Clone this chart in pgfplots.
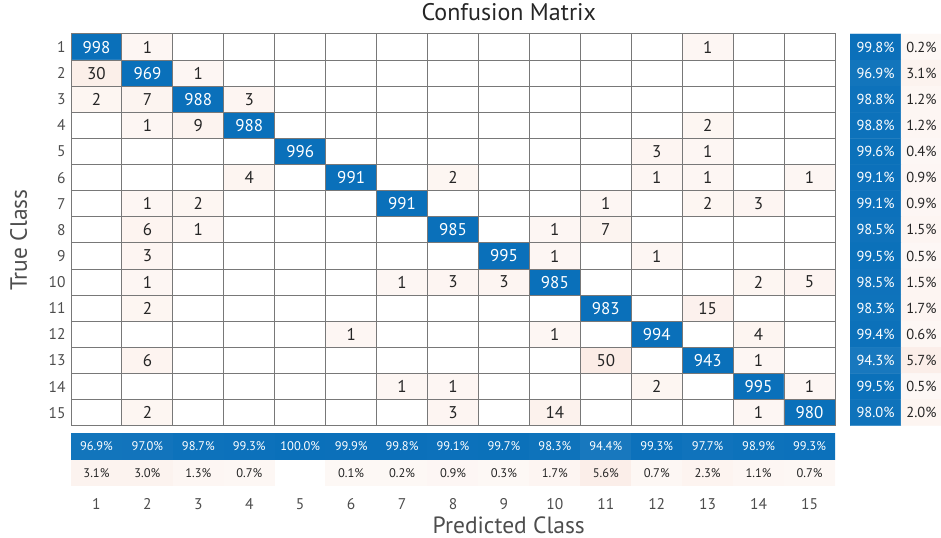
\documentclass[border=0pt]{standalone}
\usepackage{pgfplots}
\pgfplotsset{compat=1.18}
\usepackage{pgfplotstable}
\usepackage{fontspec}
\setmainfont{PT Sans}
\definecolor{txt}{RGB}{38,38,38}
\definecolor{lbl}{RGB}{77,77,77}
\definecolor{gridc}{RGB}{120,120,120}
\pgfplotsset{
  colormap={cmx}{rgb255=(217,83,25) rgb255=(255,255,255) rgb255=(10,112,186)},
  /pgf/number format/assume math mode=true,
}
% confusion counts: x = predicted class, y = true class, v = count
\pgfplotstableread[row sep=\\]{
x y v\\
1 1 998\\ 2 1 1\\ 3 1 0\\ 4 1 0\\ 5 1 0\\ 6 1 0\\ 7 1 0\\ 8 1 0\\ 9 1 0\\ 10 1 0\\ 11 1 0\\ 12 1 0\\ 13 1 1\\ 14 1 0\\ 15 1 0\\
1 2 30\\ 2 2 969\\ 3 2 1\\ 4 2 0\\ 5 2 0\\ 6 2 0\\ 7 2 0\\ 8 2 0\\ 9 2 0\\ 10 2 0\\ 11 2 0\\ 12 2 0\\ 13 2 0\\ 14 2 0\\ 15 2 0\\
1 3 2\\ 2 3 7\\ 3 3 988\\ 4 3 3\\ 5 3 0\\ 6 3 0\\ 7 3 0\\ 8 3 0\\ 9 3 0\\ 10 3 0\\ 11 3 0\\ 12 3 0\\ 13 3 0\\ 14 3 0\\ 15 3 0\\
1 4 0\\ 2 4 1\\ 3 4 9\\ 4 4 988\\ 5 4 0\\ 6 4 0\\ 7 4 0\\ 8 4 0\\ 9 4 0\\ 10 4 0\\ 11 4 0\\ 12 4 0\\ 13 4 2\\ 14 4 0\\ 15 4 0\\
1 5 0\\ 2 5 0\\ 3 5 0\\ 4 5 0\\ 5 5 996\\ 6 5 0\\ 7 5 0\\ 8 5 0\\ 9 5 0\\ 10 5 0\\ 11 5 0\\ 12 5 3\\ 13 5 1\\ 14 5 0\\ 15 5 0\\
1 6 0\\ 2 6 0\\ 3 6 0\\ 4 6 4\\ 5 6 0\\ 6 6 991\\ 7 6 0\\ 8 6 2\\ 9 6 0\\ 10 6 0\\ 11 6 0\\ 12 6 1\\ 13 6 1\\ 14 6 0\\ 15 6 1\\
1 7 0\\ 2 7 1\\ 3 7 2\\ 4 7 0\\ 5 7 0\\ 6 7 0\\ 7 7 991\\ 8 7 0\\ 9 7 0\\ 10 7 0\\ 11 7 1\\ 12 7 0\\ 13 7 2\\ 14 7 3\\ 15 7 0\\
1 8 0\\ 2 8 6\\ 3 8 1\\ 4 8 0\\ 5 8 0\\ 6 8 0\\ 7 8 0\\ 8 8 985\\ 9 8 0\\ 10 8 1\\ 11 8 7\\ 12 8 0\\ 13 8 0\\ 14 8 0\\ 15 8 0\\
1 9 0\\ 2 9 3\\ 3 9 0\\ 4 9 0\\ 5 9 0\\ 6 9 0\\ 7 9 0\\ 8 9 0\\ 9 9 995\\ 10 9 1\\ 11 9 0\\ 12 9 1\\ 13 9 0\\ 14 9 0\\ 15 9 0\\
1 10 0\\ 2 10 1\\ 3 10 0\\ 4 10 0\\ 5 10 0\\ 6 10 0\\ 7 10 1\\ 8 10 3\\ 9 10 3\\ 10 10 985\\ 11 10 0\\ 12 10 0\\ 13 10 0\\ 14 10 2\\ 15 10 5\\
1 11 0\\ 2 11 2\\ 3 11 0\\ 4 11 0\\ 5 11 0\\ 6 11 0\\ 7 11 0\\ 8 11 0\\ 9 11 0\\ 10 11 0\\ 11 11 983\\ 12 11 0\\ 13 11 15\\ 14 11 0\\ 15 11 0\\
1 12 0\\ 2 12 0\\ 3 12 0\\ 4 12 0\\ 5 12 0\\ 6 12 1\\ 7 12 0\\ 8 12 0\\ 9 12 0\\ 10 12 1\\ 11 12 0\\ 12 12 994\\ 13 12 0\\ 14 12 4\\ 15 12 0\\
1 13 0\\ 2 13 6\\ 3 13 0\\ 4 13 0\\ 5 13 0\\ 6 13 0\\ 7 13 0\\ 8 13 0\\ 9 13 0\\ 10 13 0\\ 11 13 50\\ 12 13 0\\ 13 13 943\\ 14 13 1\\ 15 13 0\\
1 14 0\\ 2 14 0\\ 3 14 0\\ 4 14 0\\ 5 14 0\\ 6 14 0\\ 7 14 1\\ 8 14 1\\ 9 14 0\\ 10 14 0\\ 11 14 0\\ 12 14 2\\ 13 14 0\\ 14 14 995\\ 15 14 1\\
1 15 0\\ 2 15 2\\ 3 15 0\\ 4 15 0\\ 5 15 0\\ 6 15 0\\ 7 15 0\\ 8 15 3\\ 9 15 0\\ 10 15 14\\ 11 15 0\\ 12 15 0\\ 13 15 0\\ 14 15 1\\ 15 15 980\\
}\cmdata
% row summary: x=1 correct %, x=2 incorrect %
\pgfplotstableread[row sep=\\]{
x y p\\
1 1 99.8\\ 2 1 0.2\\
1 2 96.9\\ 2 2 3.1\\
1 3 98.8\\ 2 3 1.2\\
1 4 98.8\\ 2 4 1.2\\
1 5 99.6\\ 2 5 0.4\\
1 6 99.1\\ 2 6 0.9\\
1 7 99.1\\ 2 7 0.9\\
1 8 98.5\\ 2 8 1.5\\
1 9 99.5\\ 2 9 0.5\\
1 10 98.5\\ 2 10 1.5\\
1 11 98.3\\ 2 11 1.7\\
1 12 99.4\\ 2 12 0.6\\
1 13 94.3\\ 2 13 5.7\\
1 14 99.5\\ 2 14 0.5\\
1 15 98.0\\ 2 15 2.0\\
}\rowsum
% column summary: y=2 correct %, y=1 incorrect %
\pgfplotstableread[row sep=\\]{
x y p\\
1 1 3.1\\ 2 1 3.0\\ 3 1 1.3\\ 4 1 0.7\\ 5 1 0.0\\ 6 1 0.1\\ 7 1 0.2\\ 8 1 0.9\\ 9 1 0.3\\ 10 1 1.7\\ 11 1 5.6\\ 12 1 0.7\\ 13 1 2.3\\ 14 1 1.1\\ 15 1 0.7\\
1 2 96.9\\ 2 2 97.0\\ 3 2 98.7\\ 4 2 99.3\\ 5 2 100.0\\ 6 2 99.9\\ 7 2 99.8\\ 8 2 99.1\\ 9 2 99.7\\ 10 2 98.3\\ 11 2 94.4\\ 12 2 99.3\\ 13 2 97.7\\ 14 2 98.9\\ 15 2 99.3\\
}\colsum
\begin{document}
\begin{tikzpicture}
\useasboundingbox (0,0) rectangle (941bp,538bp);
% ---------------- main matrix ----------------
\begin{axis}[
  at={(71bp,112.3bp)}, anchor=south west, scale only axis,
  width=764bp, height=391.7bp,
  xmin=0.5, xmax=15.5, ymin=0.5, ymax=15.5, y dir=reverse,
  enlargelimits=false,
  point meta min=0, point meta max=200,
  xtick={1,...,15}, xticklabels={},
  ytick={1,...,15},
  minor xtick={0.5,1.5,...,15.5}, minor ytick={0.5,1.5,...,15.5},
  xminorgrids, yminorgrids,
  minor grid style={gridc, line width=1bp},
  major tick length=0pt, minor tick length=0pt,
  axis line style={gridc, line width=1bp},
  axis on top,
  yticklabel style={font=\fontsize{15.5bp}{18bp}\selectfont, text=lbl, xshift=-2bp},
  title={Confusion Matrix},
  title style={at={(axis description cs:0.573,1)}, anchor=base, yshift=7.3bp,
    font=\fontsize{24bp}{28bp}\selectfont, text=txt},
  ylabel={True Class},
  ylabel style={at={(axis description cs:-0.0576,0.474)}, anchor=base,
    font=\fontsize{23.5bp}{28bp}\selectfont, text=lbl},
  every node near coord/.append style={anchor=center, inner sep=0pt,
    font=\fontsize{17bp}{20bp}\selectfont},
]
\addplot[matrix plot*, mesh/cols=15, point meta=explicit]
  table[x=x, y=y, meta expr={\thisrow{x}==\thisrow{y} ? 200 : (\thisrow{v}==0 ? 100 : 96-7*sqrt(\thisrow{v}/50))}] {\cmdata};
% off-diagonal counts
\addplot[only marks, mark=none, point meta=explicit symbolic,
  restrict expr to domain={\thisrow{v}}{0.5:100},
  nodes near coords={\pgfplotspointmeta},
  every node near coord/.append style={text=txt}]
  table[x=x, y=y, meta=v] {\cmdata};
% diagonal counts
\addplot[only marks, mark=none, point meta=explicit symbolic,
  restrict expr to domain={\thisrow{v}}{100.5:5000},
  nodes near coords={\pgfplotspointmeta},
  every node near coord/.append style={text=white}]
  table[x=x, y=y, meta=v] {\cmdata};
\end{axis}
% ---------------- row summary ----------------
\begin{axis}[
  at={(850bp,112.3bp)}, anchor=south west, scale only axis,
  width=102bp, height=391.7bp,
  xmin=0.5, xmax=2.5, ymin=0.5, ymax=15.5, y dir=reverse,
  enlargelimits=false, hide axis,
  point meta min=0, point meta max=200,
  every node near coord/.append style={anchor=center, inner sep=0pt,
    font=\fontsize{14.5bp}{17bp}\selectfont},
]
\addplot[matrix plot*, mesh/cols=2, point meta=explicit]
  table[x=x, y=y, meta expr={\thisrow{x}==1 ? 100+\thisrow{p} : (\thisrow{p}==0 ? 100 : 96-\thisrow{p})}] {\rowsum};
\addplot[only marks, mark=none, point meta=explicit symbolic,
  restrict x to domain=0.5:1.5,
  nodes near coords={\pgfplotspointmeta\%},
  every node near coord/.append style={text=white}]
  table[x=x, y=y, meta=p] {\rowsum};
\addplot[only marks, mark=none, point meta=explicit symbolic,
  restrict x to domain=1.5:2.5,
  nodes near coords={\pgfplotspointmeta\%},
  every node near coord/.append style={text=txt, xshift=-5bp}]
  table[x=x, y=y, meta=p] {\rowsum};
\end{axis}
% ---------------- column summary ----------------
\begin{axis}[
  at={(71bp,52bp)}, anchor=south west, scale only axis,
  width=764bp, height=53bp,
  xmin=0.5, xmax=15.5, ymin=0.5, ymax=2.5,
  enlargelimits=false,
  axis line style={draw=none}, major tick length=0pt,
  ytick=\empty, xtick={1,...,15},
  xticklabel style={anchor=base, yshift=-23bp, font=\fontsize{15.5bp}{18bp}\selectfont, text=lbl},
  point meta min=0, point meta max=200,
  xlabel={Predicted Class},
  xlabel style={at={(axis description cs:0.573,0)}, anchor=base, yshift=-47bp,
    font=\fontsize{23.5bp}{28bp}\selectfont, text=lbl},
  every node near coord/.append style={anchor=center, inner sep=0pt,
    font=\fontsize{12.5bp}{15bp}\selectfont},
]
\addplot[matrix plot*, mesh/cols=15, point meta=explicit]
  table[x=x, y=y, meta expr={\thisrow{y}==2 ? 100+\thisrow{p} : (\thisrow{p}==0 ? 100 : 96-\thisrow{p})}] {\colsum};
\addplot[only marks, mark=none, point meta=explicit symbolic,
  restrict y to domain=1.5:2.5,
  nodes near coords={\pgfplotspointmeta\%},
  every node near coord/.append style={text=white}]
  table[x=x, y=y, meta=p] {\colsum};
\addplot[only marks, mark=none, point meta=explicit symbolic,
  restrict y to domain=0.5:1.5,
  restrict expr to domain={\thisrow{p}}{0.05:100},
  nodes near coords={\pgfplotspointmeta\%},
  every node near coord/.append style={text=txt}]
  table[x=x, y=y, meta=p] {\colsum};
\end{axis}
\end{tikzpicture}
\end{document}
